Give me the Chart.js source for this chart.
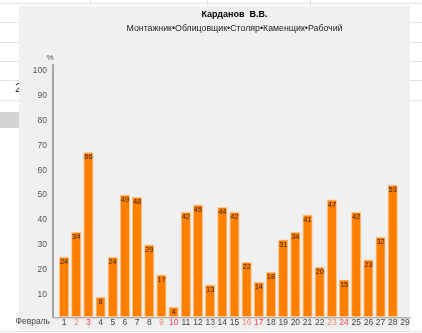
<!DOCTYPE html>
<html>
<head>
<meta charset="utf-8">
<script src="https://cdn.jsdelivr.net/npm/chart.js@4.4.1/dist/chart.umd.min.js"></script>
<style>
  html, body { margin: 0; padding: 0; background: #ffffff; }
  #wrap { position: relative; width: 422px; height: 333px; overflow: hidden; font-family: "Liberation Sans", Arial, sans-serif; }
  .hl { position: absolute; left: 0; width: 422px; height: 1px; background: #e2e2e2; }
  .vl { position: absolute; top: 0; width: 1px; height: 6px; background: #e2e2e2; }
  #cell { position: absolute; left: 0; top: 112px; width: 19px; height: 16px; background: #d4d4d4; }
  #num { position: absolute; left: 15px; top: 81px; font-size: 12px; color: #333; }
  #panel { position: absolute; left: 19px; top: 6px; width: 391px; height: 324px; background: #f0f0f0; }
  canvas { position: absolute; left: 0; top: 0; }
</style>
</head>
<body>
<div id="wrap">
  <div class="hl" style="top:3px"></div>
  <div class="hl" style="top:22px"></div>
  <div class="hl" style="top:42px"></div>
  <div class="hl" style="top:61px"></div>
  <div class="hl" style="top:80px"></div>
  <div class="hl" style="top:100px"></div>
  <div class="hl" style="top:331px"></div>
  <div class="vl" style="left:90px"></div>
  <div class="vl" style="left:207px"></div>
  <div class="vl" style="left:310px"></div>
  <div id="cell"></div>
  <div id="num">2</div>
  <div id="panel"></div>
  <canvas id="c" width="422" height="333"></canvas>
</div>
<script>
// Days of February and the percentage for each day
const days = ['1','2','3','4','5','6','7','8','9','10','11','12','13','14','15',
              '16','17','18','19','20','21','22','23','24','25','26','27','28','29'];
const percent = [24, 34, 66, 8, 24, 49, 48, 29, 17, 4, 42, 45, 13, 44, 42,
                 22, 14, 18, 31, 34, 41, 20, 47, 15, 42, 23, 32, 53, null];
const saturdays = ['2', '9', '16', '23'];
const sundays = ['3', '10', '17', '24'];
const yTicks = [10, 20, 30, 40, 50, 60, 70, 80, 90, 100];

const chartTitle = 'Карданов  В.В.';
const chartSubtitle = 'Монтажник•Облицовщик•Столяр•Каменщик•Рабочий';
const monthName = 'Февраль';
const unitLabel = '%';

const FONT = '"Liberation Sans", Arial, sans-serif';

// Axis lines, unit mark, month name and the value printed inside each bar
const decorations = {
  id: 'decorations',
  afterDatasetsDraw(chart) {
    const ctx = chart.ctx;
    const area = chart.chartArea;
    const axisX = area.left - 5;
    ctx.save();
    ctx.strokeStyle = '#a4a4a4';
    ctx.lineWidth = 2;
    ctx.beginPath();
    ctx.moveTo(axisX, area.top - 3);
    ctx.lineTo(axisX, area.bottom + 1);
    ctx.stroke();
    ctx.lineWidth = 1.5;
    ctx.strokeStyle = '#b4b4b4';
    ctx.beginPath();
    ctx.moveTo(axisX, area.bottom + 0.75);
    ctx.lineTo(area.right, area.bottom + 0.75);
    ctx.stroke();

    ctx.fillStyle = '#555';
    ctx.font = '8px ' + FONT;
    ctx.textAlign = 'center';
    ctx.textBaseline = 'middle';
    ctx.fillText(unitLabel, axisX - 3, area.top - 10);

    ctx.fillStyle = '#444';
    ctx.font = '8.5px ' + FONT;
    ctx.textAlign = 'right';
    ctx.fillText(monthName, axisX - 3, area.bottom + 5);

    const meta = chart.getDatasetMeta(0);
    ctx.fillStyle = '#3a2408';
    ctx.font = '7.5px ' + FONT;
    ctx.textAlign = 'center';
    meta.data.forEach((bar, i) => {
      const v = percent[i];
      if (v === null || v === undefined) return;
      ctx.fillText(String(v), bar.x, bar.y + 5);
    });
    ctx.restore();
  }
};

new Chart(document.getElementById('c'), {
  type: 'bar',
  data: {
    labels: days,
    datasets: [{
      data: percent,
      backgroundColor: '#ff8000',
      borderColor: '#ffc58a',
      borderWidth: 1,
      borderSkipped: false,
      categoryPercentage: 1,
      barPercentage: 0.84
    }]
  },
  options: {
    responsive: false,
    animation: false,
    layout: { padding: { left: 0, right: 11, top: 0, bottom: 0 } },
    plugins: {
      legend: { display: false },
      tooltip: { enabled: false },
      title: {
        display: true,
        fullSize: false,
        text: chartTitle,
        color: '#000',
        font: { family: FONT, size: 9, weight: 'bold' },
        padding: { top: 9, bottom: 3 }
      },
      subtitle: {
        display: true,
        fullSize: false,
        text: chartSubtitle,
        color: '#222',
        font: { family: FONT, size: 8.8 },
        padding: { top: 0, bottom: 34 }
      }
    },
    scales: {
      x: {
        offset: true,
        grid: { display: false, drawTicks: false },
        border: { display: false },
        ticks: {
          padding: 1,
          autoSkip: false,
          maxRotation: 0,
          font: { family: FONT, size: 8.5 },
          color: (c) => {
            const lbl = days[c.index];
            if (sundays.includes(lbl)) return '#ff3c5a';
            if (saturdays.includes(lbl)) return '#ee8a6e';
            return '#444';
          }
        },
        afterFit(scale) { scale.height = 15; }
      },
      y: {
        min: 0,
        max: 100,
        grid: { display: false, drawTicks: false },
        border: { display: false },
        afterBuildTicks(scale) { scale.ticks = yTicks.map(v => ({ value: v })); },
        ticks: {
          padding: 11,
          labelOffset: 3,
          color: '#555',
          font: { family: FONT, size: 8.5 }
        },
        afterFit(scale) { scale.width = 58; }
      }
    }
  },
  plugins: [decorations]
});
</script>
</body>
</html>
